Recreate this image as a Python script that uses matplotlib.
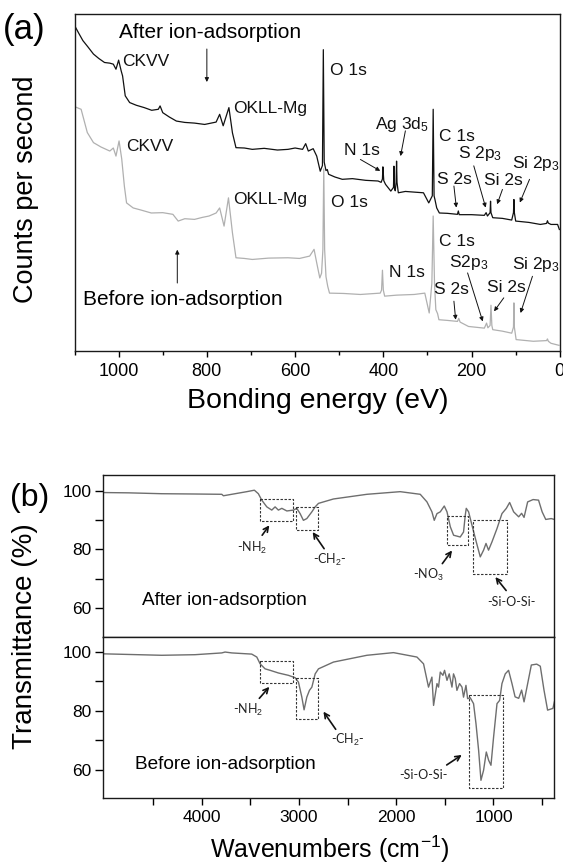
import matplotlib
matplotlib.use("Agg")
import matplotlib.pyplot as plt

plt.rcParams['font.family'] = ['Liberation Sans', 'DejaVu Sans']
plt.rcParams['mathtext.fontset'] = 'custom'
plt.rcParams['mathtext.rm'] = 'Liberation Sans'
plt.rcParams['mathtext.it'] = 'Liberation Sans:italic'
plt.rcParams['mathtext.default'] = 'rm'

# ---------------- Panel (a): XPS survey ----------------
E_after = [1100, 1090, 1081, 1070, 1057, 1045, 1032, 1020, 1012, 1006, 1000, 994, 991, 985, 975,
           960, 942, 925, 910, 906, 900, 885, 869, 850, 828, 805, 779, 771, 763, 750,
           742, 734, 715, 697, 670, 640, 616, 600, 583, 576, 570, 559, 551, 543, 538,
           536, 534, 530, 527, 524, 510, 493, 470, 440, 412, 405, 402, 401, 399, 395,
           383, 377, 376, 375, 373, 371, 370, 369, 366, 350, 330, 309, 297, 289, 287,
           285, 283, 279, 273, 255, 232, 230, 228, 200, 171, 167, 164, 158, 157, 156,
           152, 130, 109, 105, 104, 103, 100, 70, 44, 30, 28, 26, 20, 5, 1]
y_after = [96.6, 94.2, 92.1, 90.3, 88.1, 86.8, 85.6, 85.4, 85.1, 83.6, 86.3, 83.0, 81.6, 75.7, 73.7,
           72.9, 72.2, 71.4, 71.7, 72.7, 70.7, 69.4, 68.2, 67.8, 67.6, 67.2, 67.9, 70.2, 66.8, 72.2,
           64.7, 60.3, 60.2, 59.8, 60.1, 59.6, 59.8, 60.2, 59.8, 61.5, 59.3, 60.0, 57.8, 53.3, 55.0,
           89.4, 56.0, 53.5, 53.8, 52.4, 51.6, 50.9, 51.1, 50.6, 50.4, 50.0, 51.0, 54.6, 50.5, 49.4,
           47.4, 48.5, 54.8, 48.5, 47.5, 50.0, 56.3, 50.0, 46.9, 47.3, 47.1, 46.9, 43.9, 46.0, 71.7,
           46.0, 44.9, 42.4, 40.9, 40.8, 40.5, 41.5, 40.4, 40.4, 40.2, 41.0, 40.0, 41.0, 44.4, 41.0,
           39.5, 39.3, 38.8, 41.0, 44.9, 41.0, 38.5, 38.1, 37.5, 37.8, 38.6, 37.9, 37.5, 37.5, 36.0]

E_before = [1100, 1085, 1071, 1057, 1040, 1020, 1012, 1006, 999, 993, 987, 982, 967, 950, 926,
            900, 877, 865, 850, 828, 810, 795, 779, 771, 761, 751, 742, 734, 715, 697,
            660, 616, 590, 567, 557, 551, 544, 540, 537, 535, 533, 530, 526, 522, 490,
            452, 407, 404, 402, 400, 397, 370, 330, 306, 296, 290, 287, 284, 281, 277,
            274, 255, 232, 229, 226, 207, 171, 166, 163, 158, 156, 154, 152, 130, 109,
            105, 104, 103, 99, 60, 30, 28, 26, 20, 2]
y_before = [72.5, 71.7, 64.8, 61.8, 60.5, 59.3, 60.2, 57.8, 62.3, 57.0, 48.9, 43.9, 42.4, 41.8, 40.9,
            41.0, 40.5, 38.5, 39.2, 39.0, 39.6, 40.0, 40.9, 42.4, 37.0, 45.4, 35.0, 27.6, 27.4, 27.1,
            27.5, 27.6, 27.4, 28.1, 30.1, 26.1, 21.6, 23.0, 30.0, 54.0, 30.0, 22.0, 19.1, 17.1, 17.0,
            16.7, 17.1, 18.0, 23.9, 18.0, 16.2, 16.5, 16.7, 17.1, 11.2, 20.0, 40.0, 20.0, 12.2, 11.0,
            9.2, 9.0, 8.7, 9.6, 8.5, 7.2, 6.7, 8.2, 6.8, 7.5, 13.5, 7.5, 6.25, 5.8, 5.2,
            7.0, 14.2, 7.0, 3.3, 2.8, 3.0, 3.5, 2.8, 2.2, 1.6]

xps_ticks = [1000, 800, 600, 400, 200, 0]
xps_minor = [1100, 900, 700, 500, 300, 100]

# ---------------- Panel (b): FTIR ----------------
W_after = [5018, 4754, 4410, 4068, 3793, 3776, 3656, 3536, 3458, 3417, 3382, 3330, 3279, 3245,
           3211, 3176, 3124, 3057, 3022, 2988, 2954, 2919, 2867, 2833, 2799, 2645, 2301, 1959,
           1753, 1684, 1633, 1609, 1581, 1547, 1506, 1478, 1444, 1410, 1342, 1308, 1290, 1280,
           1256, 1221, 1177, 1136, 1102, 1077, 1051, 1016, 964, 913, 868, 834, 793, 741, 711,
           686, 649, 593, 537, 500, 463, 407, 374]
T_after = [99.4, 99.3, 99.0, 98.9, 98.8, 98.3, 99.0, 99.7, 100.2, 99.0, 96.8, 94.5, 93.4, 94.5,
           93.4, 94.0, 93.1, 93.4, 94.0, 92.2, 89.9, 90.5, 92.8, 94.5, 95.7, 97.2, 98.8, 99.7,
           98.8, 96.2, 92.8, 89.9, 92.2, 92.8, 94.8, 92.8, 87.7, 84.8, 84.2, 85.9, 91.7, 94.0,
           92.8, 88.2, 82.5, 77.4, 79.7, 82.0, 79.7, 82.5, 87.1, 92.2, 94.0, 96.0, 92.8, 91.1, 92.3,
           90.9, 96.2, 97.0, 96.8, 92.8, 90.2, 90.5, 90.2]

W_before = [5018, 4410, 4068, 3793, 3759, 3690, 3485, 3433, 3399, 3348, 3296, 3211, 3108, 3039,
            3005, 2970, 2947, 2919, 2892, 2867, 2833, 2799, 2645, 2301, 2028, 1787, 1719, 1668,
            1633, 1616, 1581, 1565, 1547, 1520, 1503, 1478, 1455, 1427, 1411, 1393, 1376, 1349,
            1324, 1308, 1283, 1266, 1239, 1205, 1180, 1153, 1129, 1102, 1074, 1050, 1026, 999,
            964, 937, 913, 879, 845, 810, 778, 741, 711, 686, 611, 556, 519, 481, 444, 389, 374]
T_before = [99.3, 98.8, 99.0, 99.6, 99.9, 99.6, 99.2, 98.2, 95.9, 94.2, 93.7, 92.8, 92.0, 91.2,
            89.7, 84.6, 80.3, 84.6, 86.9, 88.0, 92.5, 94.2, 96.5, 98.8, 99.7, 98.2, 95.9, 88.0,
            91.4, 81.8, 89.2, 88.0, 93.1, 92.0, 93.7, 90.3, 92.5, 88.0, 92.5, 90.9, 86.9, 89.2,
            88.0, 84.6, 88.6, 84.1, 84.4, 82.4, 75.6, 66.6, 56.4, 59.8, 66.0, 63.2, 61.5, 71.1,
            82.4, 83.5, 89.2, 92.5, 93.7, 89.2, 84.7, 84.2, 87.0, 83.0, 95.5, 95.8, 95.1, 87.0,
            80.2, 80.8, 83.0]

ir_ticks = [4000, 3000, 2000, 1000]
ir_minor = [4500, 3500, 2500, 1500, 500]
T_ticks = [60, 80, 100]
T_minor = [70, 90]

# boxes: (W_left, W_right, T_top, T_bottom)
boxes_after = [(3400, 3059, 97.1, 89.7), (3030, 2800, 94.3, 86.7),
               (1481, 1259, 91.4, 81.6), (1211, 863, 89.9, 71.4)]
boxes_before = [(3400, 3059, 96.8, 89.5), (3030, 2800, 91.0, 77.1),
                (1252, 900, 85.3, 53.7)]

W, H = 563, 866
fig = plt.figure(figsize=(W / 100, H / 100), dpi=100)


def rect(l, t, r, b):
    return [l / W, 1 - b / H, (r - l) / W, (b - t) / H]


def fx(px):
    return px / W


def fy(py):
    return 1 - py / H


spine_c = '#1a1a1a'

# ---- panel a
axa = fig.add_axes(rect(74.5, 14, 559.8, 350.7))
axa.plot(E_before, y_before, color='#b0b0b0', lw=0.9)
axa.plot(E_after, y_after, color='#111111', lw=0.9)
axa.set_xlim(1100, 0)
axa.set_ylim(0, 100)
axa.set_yticks([])
axa.set_xticks(xps_ticks)
axa.set_xticks(xps_minor, minor=True)
axa.tick_params(axis='x', which='major', direction='out', length=4.5, width=1, labelsize=13, pad=4)
axa.tick_params(axis='x', which='minor', direction='out', length=3, width=1)
for s in axa.spines.values():
    s.set_linewidth(1.0)
    s.set_color(spine_c)

fs_pk = 12.5
akw = dict(arrowstyle='-|>', color='#111111', lw=0.7, mutation_scale=6, shrinkA=0, shrinkB=0)


def lab(x, y, s, fs=fs_pk):
    axa.text(x, y, s, fontsize=fs, ha='left', va='center', color='#111111')


def arr(x0, y0, x1, y1):
    axa.annotate('', xy=(x1, y1), xytext=(x0, y0), arrowprops=akw)


axa.text(1000, 94.6, 'After ion-adsorption', fontsize=15, ha='left', va='center')
arr(800, 89.6, 800, 79.8)
lab(992, 85.8, 'CKVV')
lab(740, 71.9, 'OKLL-Mg')
lab(522, 83.1, 'O 1s')
lab(420, 67.3, 'Ag 3d$_5$')
arr(350, 65.3, 361, 57.8)
lab(489, 59.6, 'N 1s')
arr(452, 56.8, 407, 53.4)
lab(273, 63.5, 'C 1s')
lab(230, 58.6, 'S 2p$_3$')
arr(195, 54.9, 168, 42.5)
lab(279, 50.9, 'S 2s')
arr(240, 48.9, 234.5, 42.5)
lab(171, 50.6, 'Si 2s')
arr(130, 47.9, 142, 43.5)
lab(109, 55.7, 'Si 2p$_3$')
arr(68.6, 50.9, 90.6, 44.0)

lab(983, 60.5, 'CKVV')
lab(740, 44.9, 'OKLL-Mg')
lab(519, 43.9, 'O 1s')
lab(273, 32.5, 'C 1s')
lab(252, 26.1, 'S2p$_3$')
arr(209, 23.1, 174.7, 8.7)
lab(387, 23.1, 'N 1s')
lab(109, 25.6, 'Si 2p$_3$')
arr(62, 22.1, 89, 11.2)
lab(165, 18.7, 'Si 2s')
arr(127, 15.7, 149, 11.7)
lab(285, 18.2, 'S 2s')
arr(240, 14.7, 236, 9.2)
axa.text(1080, 15.2, 'Before ion-adsorption', fontsize=15, ha='left', va='center')
arr(867, 20.1, 867, 30.0)

fig.text(fx(24), fy(30), '(a)', fontsize=25, ha='center', va='center')
fig.text(fx(26), fy(189), 'Counts per second', fontsize=19.5, rotation=90, ha='center', va='center')
fig.text(fx(317.7), fy(401), 'Bonding energy (eV)', fontsize=20.5, ha='center', va='center')

# ---- panel b
axu = fig.add_axes(rect(102.6, 475, 554.4, 637))
axl = fig.add_axes(rect(102.6, 637, 554.4, 798))
axu.plot(W_after, T_after, color='#6e6e6e', lw=1.0)
axl.plot(W_before, T_before, color='#6e6e6e', lw=1.0)
axu.set_ylim(50, 105.4)
axl.set_ylim(50.4, 105)
for ax in (axu, axl):
    ax.set_xlim(5018, 374)
    ax.set_yticks(T_ticks)
    ax.set_yticks(T_minor, minor=True)
    ax.tick_params(axis='y', which='both', direction='out', length=6, width=1, labelsize=12.5, pad=2)
    for s in ax.spines.values():
        s.set_linewidth(1.0)
        s.set_color(spine_c)
axu.set_xticks([])
axu.tick_params(axis='x', which='both', bottom=False, labelbottom=False)
axl.set_xticks(ir_ticks)
axl.set_xticks(ir_minor, minor=True)
axl.tick_params(axis='x', which='both', direction='out', length=5, width=1, labelsize=12.5, pad=4)

box_kw = dict(color='#333333', lw=0.8, ls=(0, (2.2, 1.4)))


def draw_box(ax, b):
    l, r, t, bt = b
    ax.plot([l, r, r, l, l], [t, t, bt, bt, t], **box_kw)


for b in boxes_after:
    draw_box(axu, b)
for b in boxes_before:
    draw_box(axl, b)

bkw = dict(arrowstyle='->', color='#111111', lw=1.2, mutation_scale=9, shrinkA=0, shrinkB=0)
sfont = ['Lato', 'DejaVu Sans']


def slab(ax, x, y, s):
    ax.text(x, y, s, fontsize=9, ha='center', va='center', family=sfont, color='#222222')


def sarr(ax, x0, y0, x1, y1):
    ax.annotate('', xy=(x1, y1), xytext=(x0, y0), arrowprops=bkw)


slab(axu, 3481, 80.4, '-NH$_2$')
sarr(axu, 3378, 84.8, 3304, 88.2)
slab(axu, 2685, 76.2, '-CH$_2$-')
sarr(axu, 2741, 80.2, 2859, 85.9)
slab(axu, 1667, 71.1, '-NO$_3$')
sarr(axu, 1526, 75.1, 1426, 79.6)
slab(axu, 815, 61.9, '-Si-O-Si-')
sarr(axu, 870, 65.9, 981, 70.5)
axu.text(4611, 62.5, 'After ion-adsorption', fontsize=13.7, ha='left', va='center')

slab(axl, 3519, 80.2, '-NH$_2$')
sarr(axl, 3407, 84.2, 3304, 88.1)
slab(axl, 2500, 70.1, '-CH$_2$-')
sarr(axl, 2622, 73.7, 2748, 79.7)
slab(axl, 1722, 58.2, '-Si-O-Si-')
sarr(axl, 1481, 61.6, 1326, 65.0)
axl.text(4685, 61.8, 'Before ion-adsorption', fontsize=13.7, ha='left', va='center')

fig.text(fx(29.7), fy(498), '(b)', fontsize=23, ha='center', va='center')
fig.text(fx(25), fy(636), 'Transmittance (%)', fontsize=20, rotation=90, ha='center', va='center')
fig.text(fx(330), fy(849), 'Wavenumbers (cm$^{-1}$)', fontsize=18, ha='center', va='center')

fig.savefig('out.png', dpi=100, facecolor='white')
